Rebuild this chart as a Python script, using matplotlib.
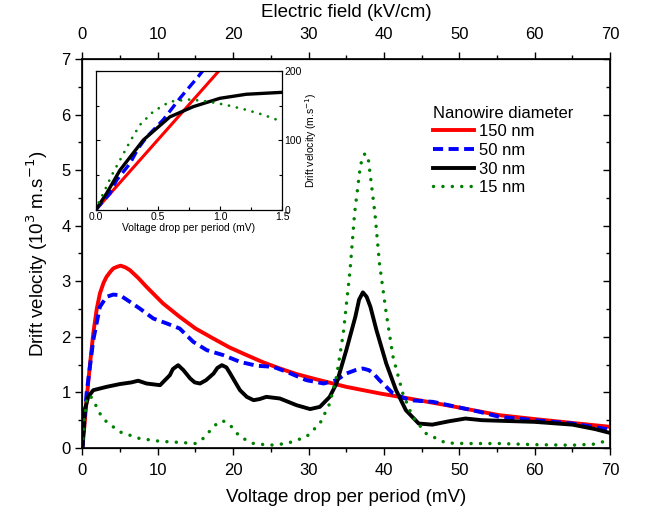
import matplotlib
matplotlib.use("Agg")
from matplotlib import pyplot as plt
from matplotlib.ticker import MultipleLocator

plt.rcParams['font.family'] = ['Liberation Sans', 'DejaVu Sans']

# main panel data (voltage drop in mV, drift velocity in 10^3 m/s)
x150 = [0, 0.3, 0.55, 1.0, 1.44, 1.9, 2.32, 2.8, 3.2, 3.7, 4.09, 4.6, 5.06, 5.7, 6.3, 7.4, 8.5,
        10.7, 12.9, 15.0, 17.35, 19.5, 21.8, 24.0, 26.2, 28.4, 30.6, 35.0, 39.5, 42.1, 48.7, 55.3,
        60, 65, 70]
v150 = [0, 0.45, 0.86, 1.5, 2.06, 2.50, 2.78, 2.97, 3.08, 3.17, 3.23, 3.26, 3.28, 3.25, 3.2, 3.06, 2.9,
        2.6, 2.36, 2.15, 1.97, 1.81, 1.67, 1.54, 1.43, 1.33, 1.25, 1.10, 0.98, 0.92, 0.76, 0.59,
        0.52, 0.45, 0.38]

x50 = [0, 0.55, 1.44, 2.32, 3.2, 4.09, 4.97, 6.3, 7.6, 9.4, 11.2, 12.9, 14.7, 16.5, 18.7, 20.9,
       23.1, 25.3, 27.1, 29.7, 32.0, 33.7, 35.0, 36.2, 37.2, 38.0, 38.6, 39.4, 41.2, 43.4, 46.5,
       49.6, 52.7, 55.3, 60, 65, 70]
v50 = [0, 0.98, 1.94, 2.54, 2.72, 2.76, 2.75, 2.63, 2.51, 2.33, 2.24, 2.15, 1.91, 1.76, 1.67, 1.55,
       1.48, 1.46, 1.37, 1.22, 1.16, 1.22, 1.34, 1.40, 1.43, 1.40, 1.34, 1.22, 0.98, 0.86, 0.83,
       0.74, 0.65, 0.56, 0.50, 0.44, 0.33]

x30 = [0, 0.33, 0.77, 1.44, 3.2, 4.97, 6.5, 7.4, 8.5, 10.3, 11.6, 12.0, 12.7, 13.4, 14.3, 14.9,
       15.6, 16.4, 17.4, 17.9, 18.5, 19.1, 19.6, 20.2, 20.9, 21.8, 22.7, 23.5, 24.4, 26.2, 28.4,
       30.2, 31.5, 32.8, 33.7, 35.0, 36.2, 36.7, 37.2, 37.7, 38.2, 39.0, 40.3, 41.6, 42.9, 44.6,
       46.4, 48.6, 50.8, 53.0, 55.3, 60, 65, 68, 70]
v30 = [0, 0.69, 0.92, 1.04, 1.10, 1.15, 1.18, 1.21, 1.16, 1.13, 1.31, 1.42, 1.49, 1.40, 1.25, 1.18,
       1.16, 1.22, 1.34, 1.44, 1.49, 1.45, 1.34, 1.20, 1.04, 0.92, 0.86, 0.88, 0.92, 0.89, 0.77,
       0.70, 0.74, 0.92, 1.16, 1.76, 2.36, 2.67, 2.80, 2.72, 2.54, 2.12, 1.52, 1.04, 0.68, 0.44,
       0.42, 0.48, 0.53, 0.50, 0.49, 0.47, 0.42, 0.34, 0.27]

x15 = [0, 0.2, 0.55, 1.0, 1.66, 2.32, 3.2, 4.97, 7.6, 10.3, 13.0, 15.0, 16.0, 17.4, 18.0, 18.5,
       19.0, 19.6, 20.9, 22.7, 24.9, 27.1, 29.7, 31.5, 32.8, 33.7, 34.6, 35.5, 36.1, 36.8, 37.1,
       37.5, 37.9, 38.1, 38.8, 39.4, 40.3, 41.2, 42.5, 43.8, 45.6, 48.2, 50.9, 55.3, 60, 65, 68, 70]
v15 = [0, 0.45, 0.86, 0.95, 0.80, 0.62, 0.47, 0.29, 0.17, 0.12, 0.10, 0.08, 0.17, 0.38, 0.46, 0.49,
       0.47, 0.41, 0.20, 0.08, 0.05, 0.08, 0.20, 0.44, 0.80, 1.28, 2.06, 3.2, 4.22, 5.0, 5.22,
       5.30, 5.22, 5.0, 4.22, 3.32, 2.42, 1.64, 0.98, 0.56, 0.26, 0.09, 0.08, 0.08, 0.06, 0.05, 0.07, 0.15]

# inset data (mV, m/s)
ix150 = [0, 1.0]
iv150 = [0, 202]
ix50 = [0, 0.115, 0.169, 0.276, 0.343, 0.41, 0.544, 0.678, 0.825, 0.86]
iv50 = [0, 24, 43, 67, 89, 105, 130, 161, 192, 200]
ix30 = [0, 0.088, 0.196, 0.383, 0.597, 0.785, 0.999, 1.21, 1.5]
iv30 = [0, 24, 57.5, 100.7, 134, 148.7, 160.7, 166.5, 169.3]
ix15 = [0, 0.027, 0.062, 0.129, 0.196, 0.276, 0.356, 0.463, 0.597, 0.758, 0.905, 1.053, 1.213, 1.347, 1.5]
iv15 = [0, 12, 24, 50, 72, 98.5, 122.5, 141.6, 156, 159, 156, 151, 144, 137, 127]

labels = ["150 nm", "50 nm", "30 nm", "15 nm"]

dash = (0, (2.6, 1.4))
dots = (0, (0.01, 2.7))

fig = plt.figure(figsize=(6.54, 5.17), dpi=100)
ax = fig.add_axes([0.126, 0.1335, 0.807, 0.7525])

ax.plot(x150, v150, color="red", lw=2.8, label=labels[0])
ax.plot(x50, v50, color="blue", lw=2.8, linestyle=dash, label=labels[1])
ax.plot(x30, v30, color="black", lw=2.8, label=labels[2])
ax.plot(x15, v15, color="green", lw=2.5, linestyle=dots, dash_capstyle="round", label=labels[3])

ax.set_xlim(0, 70)
ax.set_ylim(0, 7)
ax.xaxis.set_major_locator(MultipleLocator(10))
ax.xaxis.set_minor_locator(MultipleLocator(5))
ax.yaxis.set_major_locator(MultipleLocator(1))
ax.yaxis.set_minor_locator(MultipleLocator(0.5))
ax.tick_params(which="both", direction="out", labelsize=12, width=1)
ax.tick_params(which="major", length=5)
ax.tick_params(which="minor", length=3)
ax.tick_params(axis="x", pad=6)
ax.set_xlabel("Voltage drop per period (mV)", fontsize=13.5, labelpad=8)
ax.set_ylabel("Drift velocity (10$^3$ m.s$^{-1}$)", fontsize=13.5, labelpad=8)
for s in ax.spines.values():
    s.set_linewidth(1.2)

# top axis: electric field
axt = ax.twiny()
axt.set_xlim(0, 70)
axt.xaxis.set_major_locator(MultipleLocator(10))
axt.xaxis.set_minor_locator(MultipleLocator(5))
axt.tick_params(which="both", direction="out", labelsize=12, width=1)
axt.tick_params(which="major", length=5, pad=7.5)
axt.tick_params(which="minor", length=3)
axt.set_xlabel("Electric field (kV/cm)", fontsize=13.5, labelpad=7)

# right side: inward ticks only
axr = ax.twinx()
axr.set_ylim(0, 7)
axr.yaxis.set_major_locator(MultipleLocator(1))
axr.yaxis.set_minor_locator(MultipleLocator(0.5))
axr.tick_params(which="both", direction="in", labelright=False, width=1)
axr.tick_params(which="major", length=5)
axr.tick_params(which="minor", length=3)

leg = ax.legend(loc="upper left", bbox_to_anchor=(0.65, 0.812), bbox_transform=fig.transFigure,
                frameon=False, fontsize=12, title="Nanowire diameter", title_fontsize=12,
                handlelength=2.45, handletextpad=0.3, labelspacing=0.22, borderpad=0)
leg._legend_box.align = "left"

# inset
ins = fig.add_axes([0.1463, 0.5938, 0.2853, 0.2689])
ins.plot(ix150, iv150, color="red", lw=2.2)
ins.plot(ix50, iv50, color="blue", lw=2.4, linestyle=(0, (3, 1.6)))
ins.plot(ix30, iv30, color="black", lw=2.4)
ins.plot(ix15, iv15, color="green", lw=2.0, linestyle=(0, (0.01, 2.9)), dash_capstyle="round")
ins.set_xlim(0, 1.5)
ins.set_ylim(0, 200)
ins.xaxis.set_major_locator(MultipleLocator(0.5))
ins.xaxis.set_minor_locator(MultipleLocator(0.25))
ins.yaxis.set_major_locator(MultipleLocator(100))
ins.yaxis.set_minor_locator(MultipleLocator(50))
ins.xaxis.set_major_formatter(plt.FormatStrFormatter("%.1f"))
ins.yaxis.tick_right()
ins.yaxis.set_label_position("right")
ins.tick_params(which="both", direction="in", labelsize=7.5, width=0.8, left=True, right=True, pad=1.5)
ins.tick_params(which="major", length=3)
ins.tick_params(which="minor", length=2)
ins.set_xlabel("Voltage drop per period (mV)", fontsize=7.5, labelpad=0.5)
ins.set_ylabel("Drift velocity (m.s$^{-1}$)", fontsize=7.5, labelpad=1)
for s in ins.spines.values():
    s.set_linewidth(0.9)

fig.savefig("out.png", dpi=100)
